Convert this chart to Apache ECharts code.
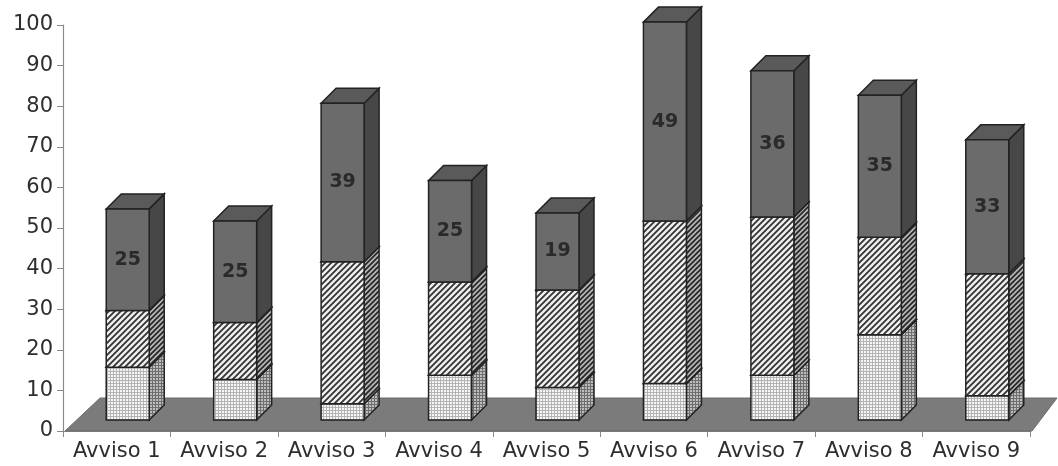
<!doctype html>
<html lang="it">
  <head>
    <meta charset="UTF-8" />
    <title>Avvisi</title>
    <script src="https://cdn.jsdelivr.net/npm/echarts@6/dist/echarts.min.js"></script>
    <style>
      * { margin: 0; padding: 0; }
      html, body, #chart { width: 1058px; height: 466px; overflow: hidden; background: #fff; }
    </style>
  </head>
  <body>
    <div id="chart"></div>
    <script>
      const categories = ['Avviso 1', 'Avviso 2', 'Avviso 3', 'Avviso 4', 'Avviso 5', 'Avviso 6', 'Avviso 7', 'Avviso 8', 'Avviso 9'];
      const bottomValues = [13, 10, 4, 11, 8, 9, 11, 21, 6];
      const middleValues = [14, 14, 35, 23, 24, 40, 39, 24, 30];
      const topValues = [25, 25, 39, 25, 19, 49, 36, 35, 33];

      // oblique projection offsets (px)
      const FRONT = [11, -11];
      const DEPTH = [15, -15];
      const FLOOR = [35, -33];

      function makePattern(size, draw) {
        const c = document.createElement('canvas');
        c.width = size;
        c.height = size;
        draw(c.getContext('2d'), size);
        return { image: c, repeat: 'repeat' };
      }
      // mesh look: grey grid with light cells
      const mesh = (line, cell) => makePattern(3, (ctx) => {
        ctx.fillStyle = line; ctx.fillRect(0, 0, 3, 3);
        ctx.fillStyle = cell; ctx.fillRect(0, 0, 2, 2);
      });
      const hatch = (bg, fg, s, lw) => makePattern(s, (ctx) => {
        ctx.fillStyle = bg; ctx.fillRect(0, 0, s, s);
        ctx.strokeStyle = fg; ctx.lineWidth = lw;
        ctx.beginPath();
        ctx.moveTo(-1, s + 1); ctx.lineTo(s + 1, -1);
        ctx.moveTo(-1, 1); ctx.lineTo(1, -1);
        ctx.moveTo(s - 1, s + 1); ctx.lineTo(s + 1, s - 1);
        ctx.stroke();
      });

      const styles = [
        { front: mesh('#b4b4b4', '#f6f6f6'), side: mesh('#6e6e6e', '#bdbdbd'), top: mesh('#999', '#e0e0e0') },
        { front: hatch('#f0f0f0', '#333', 6, 1.8), side: hatch('#b5b5b5', '#262626', 5, 1.7), top: hatch('#d0d0d0', '#333', 5, 1.5) },
        { front: '#6b6b6b', side: '#474747', top: '#5a5a5a' }
      ];

      function stackData(values, below) {
        return values.map((v, i) => {
          const start = below.reduce((s, arr) => s + arr[i], 0);
          return [i, start, start + v, v];
        });
      }

      function renderBox(layer, showLabel) {
        return function (params, api) {
          const i = api.value(0);
          const p0 = api.coord([i, api.value(1)]);
          const p1 = api.coord([i, api.value(2)]);
          const w = api.size([1, 0])[0] * 0.4;
          const x = p0[0] - w / 2 + FRONT[0];
          const yb = p0[1] + FRONT[1];
          const yt = p1[1] + FRONT[1];
          const st = styles[layer];
          const edge = { stroke: '#222', lineWidth: 1.5 };
          const children = [
            {
              type: 'polygon',
              shape: { points: [[x + w, yb], [x + w + DEPTH[0], yb + DEPTH[1]], [x + w + DEPTH[0], yt + DEPTH[1]], [x + w, yt]] },
              style: Object.assign({ fill: st.side }, edge)
            },
            {
              type: 'polygon',
              shape: { points: [[x, yt], [x + w, yt], [x + w + DEPTH[0], yt + DEPTH[1]], [x + DEPTH[0], yt + DEPTH[1]]] },
              style: Object.assign({ fill: st.top }, edge)
            },
            {
              type: 'rect',
              shape: { x: x, y: yt, width: w, height: yb - yt },
              style: Object.assign({ fill: st.front }, edge)
            }
          ];
          if (showLabel) {
            children.push({
              type: 'text',
              style: {
                x: x + w / 2, y: (yt + yb) / 2,
                text: String(api.value(3)),
                align: 'center', verticalAlign: 'middle',
                fill: '#2a2a2a', font: 'bold 19px "DejaVu Sans", sans-serif'
              }
            });
          }
          return { type: 'group', children: children };
        };
      }

      const chart = echarts.init(document.getElementById('chart'), null, { renderer: 'canvas' });
      chart.setOption({
        animation: false,
        grid: { left: 63, right: 28, top: 25, bottom: 35, containLabel: false },
        xAxis: {
          type: 'category',
          data: categories,
          axisLine: { lineStyle: { color: '#8a8a8a', width: 1.2 } },
          axisTick: { show: true, length: 6, lineStyle: { color: '#8a8a8a' } },
          axisLabel: { color: '#2e2e2e', fontSize: 21, fontFamily: 'DejaVu Sans', margin: 10, interval: 0, hideOverlap: false },
          z: 0
        },
        yAxis: {
          type: 'value',
          min: 0,
          max: 100,
          interval: 10,
          splitLine: { show: false },
          axisLine: { show: true, lineStyle: { color: '#8a8a8a', width: 1.2 } },
          axisTick: { show: true, length: 6, lineStyle: { color: '#8a8a8a' } },
          axisLabel: { color: '#2e2e2e', fontSize: 21, fontFamily: 'DejaVu Sans', margin: 10 }
        },
        series: [
          {
            type: 'custom',
            data: [[0]],
            z: 1,
            renderItem: function (params, api) {
              const cs = params.coordSys;
              const y0 = cs.y + cs.height;
              const x0 = cs.x + 2;
              const x1 = cs.x + cs.width + 2;
              return {
                type: 'polygon',
                shape: { points: [[x0, y0], [x1, y0], [x1 + FLOOR[0] - 10, y0 + FLOOR[1]], [x0 + FLOOR[0], y0 + FLOOR[1]]] },
                style: { fill: '#7b7b7b', stroke: '#6a6a6a', lineWidth: 1 }
              };
            }
          },
          {
            type: 'custom', z: 2,
            encode: { x: 0, y: [1, 2] },
            data: stackData(bottomValues, []),
            renderItem: renderBox(0, false)
          },
          {
            type: 'custom', z: 3,
            encode: { x: 0, y: [1, 2] },
            data: stackData(middleValues, [bottomValues]),
            renderItem: renderBox(1, false)
          },
          {
            type: 'custom', z: 4,
            encode: { x: 0, y: [1, 2] },
            data: stackData(topValues, [bottomValues, middleValues]),
            renderItem: renderBox(2, true)
          }
        ]
      });
    </script>
  </body>
</html>
